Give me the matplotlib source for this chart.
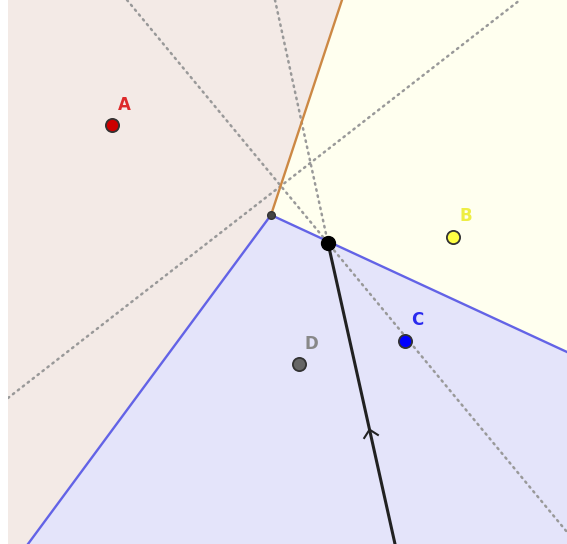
import numpy as np
import matplotlib
matplotlib.use("Agg")
import matplotlib.pyplot as plt

# punkty (wspolrzedne jak na obrazku, os y w dol)
names = ["A", "B", "C", "D"]
px = [112, 453, 405, 299]
py = [125, 237, 341, 364]
pcol = ["#cc0000", "#ffff44", "#0000ff", "#666666"]
lcol = ["#dd2a2a", "#eeee44", "#2a2aee", "#888888"]
lab_x = [124, 466, 417, 311]
lab_y = [105, 216, 320, 344]

# wierzcholki diagramu
v1 = (271, 215)
v2 = (328, 243)

# konce krawedzi
orange_end = (342, 0)
blue_left_end = (28, 544)
blue_right_end = (567, 352)
black_end = (395, 544)

# proste kropkowane
dotted = [((127, 0), (567, 532)),
          ((275, 0), (328, 243)),
          ((8, 398), (520, 0))]

# obszary
regA = [(8, 0), (342, 0), v1, blue_left_end, (8, 544)]
regB = [(342, 0), (567, 0), blue_right_end, v1]
regC = [v1, blue_right_end, (567, 544), blue_left_end]

fig = plt.figure(figsize=(5.67, 5.44), dpi=100)
ax = fig.add_axes([8 / 567, 0, 559 / 567, 1])
ax.set_xlim(8, 567)
ax.set_ylim(544, 0)
ax.axis("off")

def poly(pts, c):
    xs = [p[0] for p in pts]
    ys = [p[1] for p in pts]
    ax.fill(xs, ys, color=c, lw=0, zorder=1)

poly(regA, "#f3eae6")
poly(regB, "#ffffef")
poly(regC, "#e4e4fa")

for a, b in dotted:
    ax.plot([a[0], b[0]], [a[1], b[1]], color="#999999", lw=1.8,
            linestyle=(0, (0.6, 1.9)), dash_capstyle="round", zorder=2)

ax.plot([v1[0], orange_end[0]], [v1[1], orange_end[1]], color="#cc8844", lw=1.7, zorder=3)
ax.plot([blue_left_end[0], v1[0], blue_right_end[0]],
        [blue_left_end[1], v1[1], blue_right_end[1]], color="#6363e6", lw=1.7, zorder=3)
ax.plot([v2[0], black_end[0]], [v2[1], black_end[1]], color="#222222", lw=2.2, zorder=4)

# strzalka na czarnej linii
d = np.array(black_end, float) - np.array(v2, float)
d = d / np.linalg.norm(d)
n = np.array([d[1], -d[0]])
tip = np.array(v2) + 0.62 * (np.array(black_end) - np.array(v2))
arm1 = tip + 7 * d + 7 * n
arm2 = tip + 7 * d - 7 * n
ax.plot([arm1[0], tip[0], arm2[0]], [arm1[1], tip[1], arm2[1]], color="#222222", lw=1.5, zorder=4)

# wierzcholki
ax.plot(v1[0], v1[1], "o", ms=5.5, color="#444444", mec="#333333", zorder=5)
ax.plot(v2[0], v2[1], "o", ms=10, color="#000000", zorder=5)

for i in range(len(names)):
    ax.plot(px[i], py[i], "o", ms=9.5, color=pcol[i], mec="#333333", mew=1.3, zorder=6)
    ax.text(lab_x[i], lab_y[i], names[i], color=lcol[i], fontsize=12,
            fontweight="bold", ha="center", va="center", zorder=6)

fig.savefig("out.png", dpi=100)
